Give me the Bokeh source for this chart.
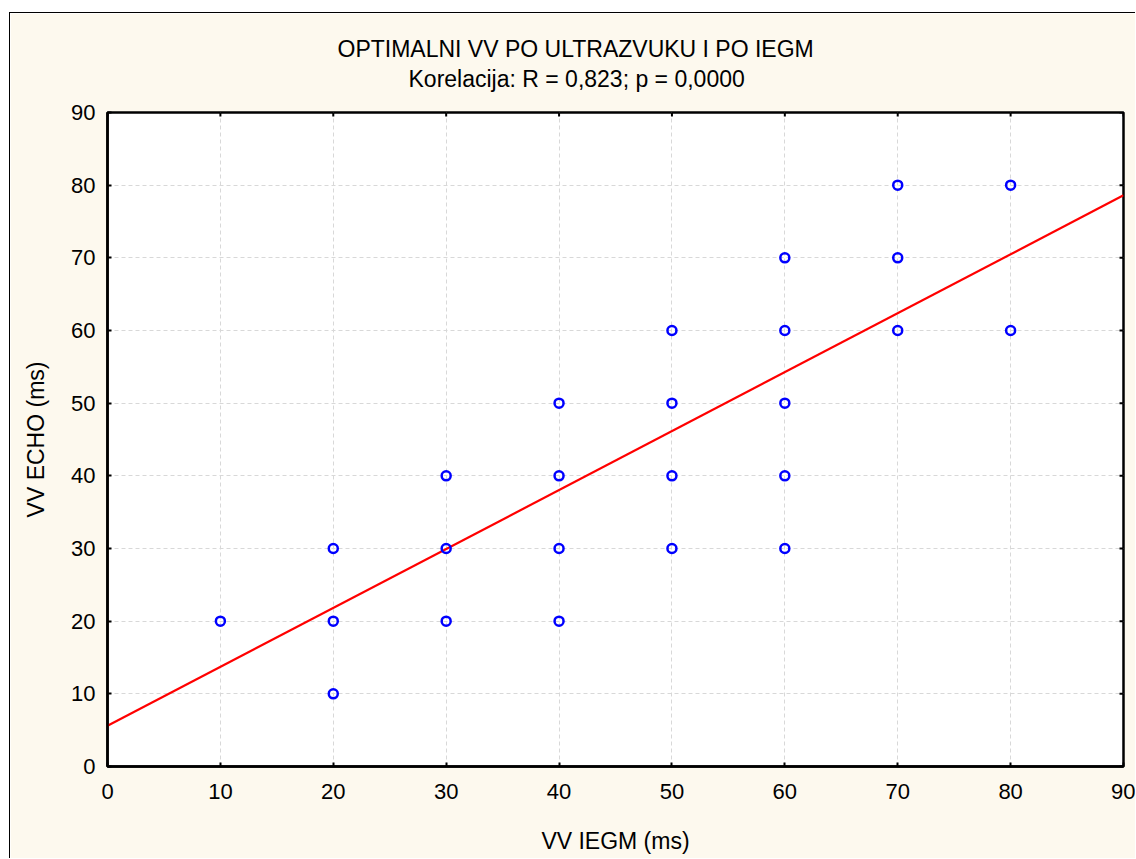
import math
from bokeh.plotting import figure
from bokeh.models import Range1d, Title, FixedTicker, Spacer
from bokeh.layouts import column, row
from bokeh.embed import file_html
from bokeh.resources import INLINE

title_main = "OPTIMALNI VV PO ULTRAZVUKU I PO IEGM"
title_sub = "Korelacija: R = 0,823; p = 0,0000"
x_label = "VV IEGM (ms)"
y_label = "VV ECHO (ms)"
ticks = [0, 10, 20, 30, 40, 50, 60, 70, 80, 90]

vv_iegm = [10, 20, 20, 20, 30, 30, 30, 40, 40, 40, 40, 50, 50, 50, 50,
           60, 60, 60, 60, 60, 70, 70, 70, 80, 80]
vv_echo = [20, 30, 20, 10, 40, 30, 20, 50, 40, 30, 20, 60, 50, 40, 30,
           70, 60, 50, 40, 30, 80, 70, 60, 80, 60]
fit_x = [0, 90]
fit_y = [5.6, 78.6]

FONT = "Liberation Sans"
BG = "#FDF9EE"
X_MAX = 90
Y_MAX = 90

p = figure(width=1126, height=846, x_range=Range1d(0, X_MAX), y_range=Range1d(0, Y_MAX),
           output_backend="svg", toolbar_location=None, title=None)
p.background_fill_color = "white"
p.border_fill_color = BG
p.outline_line_color = "black"
p.outline_line_width = 2.5
p.min_border_left = 97
p.min_border_right = 13
p.min_border_top = 99
p.min_border_bottom = 93
p.styles = {"border-left": "1px solid #000", "border-top": "1px solid #000"}

ticker = FixedTicker(ticks=ticks)

for ax in (p.xaxis[0], p.yaxis[0]):
    ax.ticker = ticker
    ax.axis_line_width = 2.5
    ax.axis_line_color = "black"
    ax.major_tick_in = 4
    ax.major_tick_out = 0
    ax.major_tick_line_width = 2
    ax.minor_tick_line_color = None
    ax.major_label_text_font = FONT
    ax.major_label_text_font_size = "22px"
    ax.major_label_text_color = "black"
    ax.axis_label_text_font = FONT
    ax.axis_label_text_font_size = "23px"
    ax.axis_label_text_font_style = "normal"
    ax.axis_label_text_color = "black"

p.xaxis[0].axis_label = x_label
p.yaxis[0].axis_label = y_label
p.xaxis[0].major_label_standoff = 17
p.xaxis[0].axis_label_standoff = 26
p.yaxis[0].major_label_standoff = 12
p.yaxis[0].axis_label_standoff = 19

for g in (p.xgrid[0], p.ygrid[0]):
    g.ticker = ticker
    g.grid_line_color = "#d8d8d8"
    g.grid_line_dash = "4 3"
    g.grid_line_width = 1

# mirrored tick marks on the top and right frame edges
p.scatter(ticks, [Y_MAX] * len(ticks), marker="dash", angle=math.pi / 2, size=8,
          line_color="black", line_width=2)
p.scatter([X_MAX] * len(ticks), ticks, marker="dash", size=8,
          line_color="black", line_width=2)

p.line(fit_x, fit_y, line_color="#FF0000", line_width=2.2)
p.scatter(vv_iegm, vv_echo, marker="circle", size=9, fill_color=None,
          line_color="#0000FF", line_width=2.5)

sub = Title(text=title_sub, align="left", offset=301, text_font=FONT,
            text_font_size="23px", text_font_style="normal", text_color="black",
            standoff=0, padding=dict(left=0, right=0, top=0, bottom=21))
main = Title(text=title_main, align="left", offset=230, text_font=FONT,
             text_font_size="23px", text_font_style="normal", text_color="black",
             standoff=4)
p.add_layout(sub, "above")
p.add_layout(main, "above")

page = column(Spacer(height=12, width=1136), row(Spacer(width=9, height=846), p))

open("out.html", "w").write(file_html(page, INLINE))
